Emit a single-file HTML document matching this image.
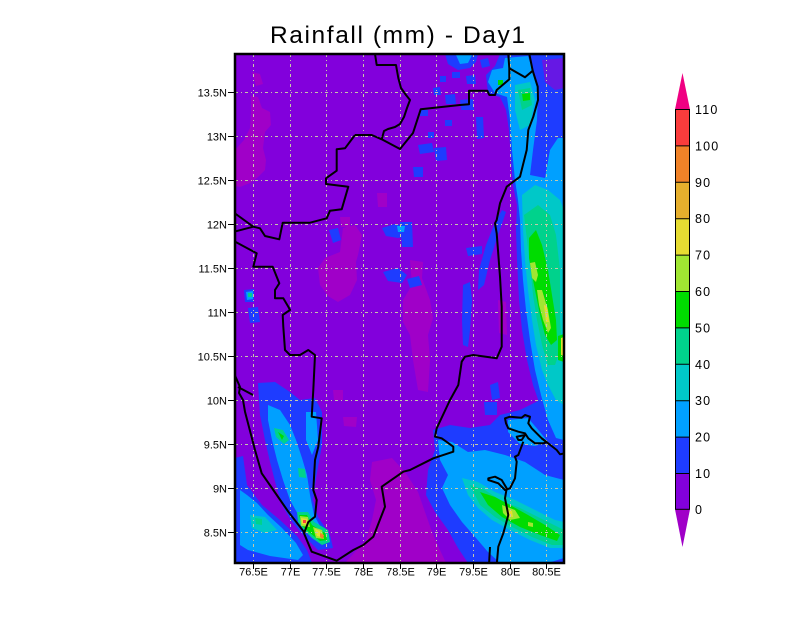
<!DOCTYPE html>
<html><head><meta charset="utf-8"><style>html,body{margin:0;padding:0;background:#fff;}svg{display:block}</style></head>
<body>
<svg width="800" height="618" viewBox="0 0 800 618" xmlns="http://www.w3.org/2000/svg" font-family="'Liberation Sans', sans-serif">
<rect width="800" height="618" fill="#fff"/>
<defs><clipPath id="c"><rect x="235" y="54" width="329" height="509"/></clipPath></defs>
<g clip-path="url(#c)">
<rect x="235" y="54" width="329" height="509" fill="rgb(130,0,220)"/>
<!-- magenta patches -->
<g fill="rgb(160,0,200)">
<path d="M251,96 L258,97 L262,108 L270,112 L271,125 L265,132 L263,148 L266,160 L265,170 L258,177 L250,183 L240,187 L235,186 L235,150 L244,140 L250,128 L251,112 Z"/>
<path d="M252,72 L260,74 L263,84 L256,86 Z"/>
<path d="M343,228 L355,225 L362,235 L358,255 L356,262 L357,280 L350,295 L338,302 L328,296 L320,285 L318,268 L325,258 L340,252 Z"/>
<path d="M410,260 L423,262 L422,278 L430,300 L433,318 L428,335 L430,360 L428,392 L418,390 L413,360 L410,335 L403,322 L403,300 L412,285 Z"/>
<path d="M498,300 L506,302 L507,335 L499,333 Z"/>
<path d="M372,462 L392,458 L405,472 L418,492 L425,512 L432,532 L440,550 L446,563 L345,563 L355,552 L366,540 L372,520 L376,500 L370,480 Z"/>
<path d="M377,480 L387,480 L387,488 L378,488 Z"/>
<path d="M333,390 L343,390 L343,400 L334,400 Z"/>
<path d="M343,417 L357,417 L356,427 L344,426 Z"/>
<path d="M340,217 L350,217 L350,227 L341,227 Z"/>
<path d="M377,193 L387,193 L387,207 L378,207 Z"/>
</g>
<!-- blue (10-20) -->
<g fill="rgb(30,60,255)">
<path d="M500,54 L564,54 L564,425 L550,422 L540,405 L533,385 L527,360 L522,330 L519,300 L517,260 L516,230 L517,205 L513,185 L511,160 L509,130 L506,110 L500,97 L488,93 L486,75 L495,66 Z"/>
<path d="M445,54 L478,54 L476,62 L470,68 L458,70 L448,64 Z"/>
<path d="M433,430 L450,425 L470,428 L490,425 L500,415 L520,410 L540,400 L564,395 L564,563 L468,563 L458,548 L448,530 L435,512 L426,495 L428,470 L435,450 Z"/>
<path d="M235,458 L243,456 L247,485 L262,505 L280,520 L297,536 L307,550 L312,563 L235,563 Z"/>
<path d="M258,383 L275,382 L290,392 L300,400 L315,398 L322,412 L322,445 L316,478 L313,500 L318,517 L330,535 L333,548 L318,550 L305,537 L292,522 L282,505 L276,485 L270,462 L265,440 L260,415 Z"/>
<path d="M329,230 L338,228 L341,240 L333,243 Z"/>
<path d="M382,228 L395,224 L410,226 L410,236 L398,238 L386,236 Z"/>
<path d="M383,272 L398,268 L407,275 L402,283 L388,281 Z"/>
<path d="M463,285 L470,282 L472,300 L470,330 L468,347 L463,345 L462,320 Z"/>
<path d="M502,210 L506,212 L498,235 L490,260 L484,285 L478,290 L479,270 L486,245 L494,225 Z"/>
<path d="M466,248 L482,246 L482,254 L468,256 Z"/>
<path d="M407,279 L419,276 L422,285 L410,288 Z"/>
<path d="M490,385 L498,382 L500,398 L492,400 Z"/>
<path d="M418,145 L432,143 L434,152 L420,154 Z"/>
<path d="M434,148 L446,147 L447,160 L436,161 Z"/>
<path d="M413,167 L423,167 L423,177 L414,177 Z"/>
<path d="M433,88 L440,87 L441,95 L434,95 Z"/>
<path d="M445,95 L455,94 L456,104 L446,104 Z"/>
<path d="M460,100 L473,99 L474,110 L461,110 Z"/>
<path d="M476,117 L483,117 L484,138 L477,139 Z"/>
<path d="M248,308 L258,307 L260,322 L250,323 Z"/>
<path d="M244,290 L254,289 L254,302 L245,302 Z"/>
<path d="M484,402 L497,402 L497,415 L485,415 Z"/>
<path d="M400,222 L412,222 L413,247 L402,247 Z"/>
<path d="M452,72 L460,72 L460,78 L452,78 Z"/>
<path d="M466,76 L475,75 L476,84 L467,84 Z"/>
<path d="M480,60 L488,58 L490,66 L482,68 Z"/>
<path d="M440,76 L446,76 L446,82 L440,82 Z"/>
<path d="M420,110 L428,110 L428,116 L420,116 Z"/>
<path d="M445,120 L452,120 L452,126 L445,126 Z"/>
<path d="M428,132 L434,132 L434,138 L428,138 Z"/>
</g>
<g fill="rgb(150,0,210)" opacity="0.6">
<path d="M542,60 L564,58 L564,88 L555,90 L545,82 Z"/>
</g>
<!-- light blue (20-30) -->
<g fill="rgb(0,160,255)">
<path d="M505,58 L528,56 L533,72 L538,90 L537,120 L533,150 L530,175 L545,178 L550,150 L558,138 L564,138 L564,440 L556,438 L548,420 L541,395 L535,370 L530,340 L526,310 L523,280 L521,250 L520,220 L518,200 L515,180 L512,150 L510,120 L507,97 L495,93 L488,82 L492,70 L503,68 Z"/>
<path d="M456,55 L472,55 L468,63 L460,64 Z"/>
<path d="M438,440 L452,442 L468,452 L485,450 L505,455 L525,462 L545,475 L564,480 L564,558 L548,563 L500,563 L488,552 L476,538 L462,522 L450,505 L442,488 L448,475 L440,460 Z"/>
<path d="M508,420 L528,418 L540,432 L548,442 L535,446 L520,444 L508,432 Z"/>
<path d="M240,490 L247,495 L257,503 L268,515 L282,528 L296,543 L303,555 L298,560 L270,556 L248,550 L240,545 Z"/>
<path d="M268,405 L280,410 L290,425 L296,440 L302,458 L307,475 L310,495 L314,515 L325,535 L322,542 L310,530 L300,518 L290,500 L283,480 L277,460 L272,440 L268,420 Z"/>
<path d="M306,412 L316,412 L318,440 L312,455 L306,440 Z"/>
<path d="M397,226 L405,226 L404,232 L398,232 Z"/>
<path d="M246,292 L253,291 L253,299 L247,300 Z"/>
</g>
<!-- cyan (30-40) -->
<g fill="rgb(0,200,200)">
<path d="M522,195 L535,185 L548,190 L560,200 L564,210 L564,405 L556,400 L548,385 L542,370 L536,345 L532,320 L528,290 L525,260 L523,230 Z"/>
<path d="M515,85 L530,82 L535,100 L530,125 L520,130 L515,110 Z"/>
<path d="M462,478 L478,482 L495,492 L515,500 L535,510 L555,520 L564,522 L564,548 L550,548 L530,540 L510,530 L492,520 L478,508 L468,495 Z"/>
<path d="M250,515 L265,517 L277,530 L265,533 L252,528 Z"/>
</g>
<!-- teal (40-50) -->
<g fill="rgb(0,210,140)">
<path d="M524,215 L538,205 L550,215 L556,235 L560,270 L560,320 L562,345 L555,365 L548,365 L542,345 L537,320 L533,295 L530,265 L527,240 Z"/>
<path d="M518,90 L530,88 L532,105 L522,110 Z"/>
<path d="M470,485 L485,490 L500,500 L520,508 L540,518 L560,528 L564,530 L564,545 L552,545 L532,537 L512,527 L495,517 L480,505 Z"/>
<path d="M274,428 L283,430 L289,440 L284,444 L276,437 Z"/>
<path d="M298,468 L305,469 L306,478 L299,477 Z"/>
<path d="M297,512 L308,512 L314,522 L328,530 L330,542 L322,545 L312,538 L304,530 L298,522 Z"/>
<path d="M255,518 L262,519 L262,525 L256,524 Z"/>
<path d="M248,293 L252,293 L252,297 L248,297 Z"/>
</g>
<!-- green (50-60) -->
<g fill="rgb(0,220,0)">
<path d="M529,238 L536,230 L542,245 L548,270 L552,295 L556,320 L557,340 L551,345 L545,335 L540,315 L536,295 L532,275 L529,258 Z"/>
<path d="M522,94 L530,93 L530,100 L523,101 Z"/>
<path d="M498,80 L503,80 L503,85 L498,85 Z"/>
<path d="M480,492 L495,497 L510,505 L528,515 L545,525 L560,535 L557,541 L540,535 L520,527 L502,517 L488,505 Z"/>
<path d="M278,432 L284,436 L282,440 Z"/>
<path d="M299,515 L307,515 L312,525 L325,533 L327,540 L320,541 L310,533 L302,526 Z"/>
<path d="M558,336 L564,334 L564,362 L558,360 Z"/>
</g>
<!-- yellow-green (60-70) -->
<g fill="rgb(160,230,50)">
<path d="M530,263 L535,262 L538,275 L536,282 L532,278 Z"/>
<path d="M537,290 L542,290 L548,310 L551,328 L548,333 L543,320 L539,305 Z"/>
<path d="M502,505 L515,510 L520,518 L510,520 L503,513 Z"/>
<path d="M528,522 L533,523 L533,527 L528,526 Z"/>
<path d="M300,516 L308,517 L310,527 L301,526 Z"/>
<path d="M313,527 L322,530 L324,539 L316,538 Z"/>
</g>
<g fill="rgb(230,220,50)">
<path d="M544,305 L547,306 L549,322 L546,322 Z"/>
<path d="M561,338 L564,337 L564,356 L561,355 Z"/>
<path d="M507,510 L512,511 L513,517 L508,516 Z"/>
<path d="M301,518 L307,519 L308,525 L302,524 Z"/>
<path d="M315,529 L320,531 L322,537 L317,536 Z"/>
</g>
<path d="M320,533 L324,535 L323,539 L320,537 Z" fill="rgb(240,130,40)"/>
<path d="M303,520 L306,520 L306,523 L303,523 Z" fill="rgb(250,60,60)"/>
<!-- grid -->
<g stroke="#c4c8a8" stroke-width="1" stroke-dasharray="3,3,1,3" fill="none">
<path d="M253.5,54V563M290.5,54V563M326.5,54V563M363.5,54V563M400.5,54V563M436.5,54V563M473.5,54V563M510.5,54V563M546.5,54V563"/>
<path d="M235,92.5H564M235,136.5H564M235,180.5H564M235,224.5H564M235,268.5H564M235,312.5H564M235,356.5H564M235,400.5H564M235,444.5H564M235,488.5H564M235,532.5H564"/>
</g>
<!-- borders -->
<g stroke="#000" stroke-width="2" fill="none" stroke-linejoin="round">
<polyline points="375,54 376.7,65 396,65 398.3,78 401,88 406,95 410,100 407,108 404,117 400,124 395,127 388,129 384,131 381.7,139.3"/>
<polyline points="355,135 371.7,135 381.7,139.3 400,149 413,133 420.7,109.3 460,105 469,104.3 469,90.7 487.3,90.7 489.3,95 495,95 496.7,90 509.3,79.3 509.3,68.3 508.3,54"/>
<polyline points="509.3,68.3 525,77.3 532.7,70.7"/>
<polyline points="355,135 345,148.3 336.7,149.3 336.7,170.7 326,178.3 326,184 348.3,186.7 341.7,209.3 330,210.7 326.7,218.3 310,222.7 282.7,222.7 279.3,239.3 265,236 260,228.3 253.3,226.7 233,232"/>
<polyline points="233,212 253.3,226.7"/>
<polyline points="233,240.5 256.7,253.3 253.3,266.7 272.7,266.7 279.3,283.3 275,290 275,298.3 283.3,298.3 288.3,306.7 290,310 282.7,315 283.3,326.7 285,350 290,355 300,355 308.3,350 315,355 313.3,390 311.7,416.7 321.7,418.3 318.3,446.7 315,460 313.3,490 316.7,500 315,516.7 308.3,522 304,533.3 311.7,551.7 336.7,560.7 353.3,550 363.3,545 373.3,536.7 385,506.7 381.7,486.7 403.3,471.7 410,470 433.3,458.3 453.3,451.7 453.3,446.7 441.7,438.3 435,436.7 436.7,428.3 450,400 458.3,385 461.7,361.7 465,356.7 473.3,355 496.7,358.3 501.7,346.7 501.7,306.7 500,276.7 496.7,233.3 495,223.3 496.7,220 500,203.3 506.7,186.7 520,176.7 526.7,150 528.3,130 533.3,116.7 538,100 537.7,86.7 532.7,70.7 529.3,54"/>
<polyline points="233,371 240,387 239,393 243,400 245,411.7 255,450 261.7,473.3 273.3,490 288.3,511.7 305,533.3"/>
<polyline points="238,387 253,395"/>
<polygon points="505,418.3 510,416.7 521.7,417.7 525,415 530,416.7 528.3,423.3 531.7,428.3 536.7,433.3 541.7,438.3 546.7,442.3 543.3,443.3 535,443.3 528.3,438.3 525,433.3 518.3,431.7 508.3,428.3 506,423.3"/>
<polygon points="516.7,436.7 525,435 521.7,440 518.3,440"/>
<polyline points="523.3,441.7 518.3,455 515,456.7 516.7,461.7 515,478.3 510,488.3 505,490 498.3,483.3 488.3,480 488.3,478.3 495,476.7 501.7,480 506.7,488.3 505,498.3 508.3,515 503.3,533.3 498.3,546.7 496.7,565"/>
<polyline points="490,547 489,565"/>
<polyline points="541.7,438.3 556.7,450 560,454.3 566,453"/>
</g>
</g>
<!-- frame -->
<rect x="235" y="54" width="329" height="509" fill="none" stroke="#000" stroke-width="2.5"/>
<!-- ticks -->
<g stroke="#000" stroke-width="1">
<path d="M228,92.5H234M228,136.5H234M228,180.5H234M228,224.5H234M228,268.5H234M228,312.5H234M228,356.5H234M228,400.5H234M228,444.5H234M228,488.5H234M228,532.5H234"/>
<path d="M253.5,564V569M290.5,564V569M326.5,564V569M363.5,564V569M400.5,564V569M436.5,564V569M473.5,564V569M510.5,564V569M546.5,564V569"/>
</g>
<g font-size="11" fill="#000" text-anchor="end">
<text x="227" y="96.5">13.5N</text>
<text x="227" y="140.5">13N</text>
<text x="227" y="184.5">12.5N</text>
<text x="227" y="228.5">12N</text>
<text x="227" y="272.5">11.5N</text>
<text x="227" y="316.5">11N</text>
<text x="227" y="360.5">10.5N</text>
<text x="227" y="404.5">10N</text>
<text x="227" y="448.5">9.5N</text>
<text x="227" y="492.5">9N</text>
<text x="227" y="536.5">8.5N</text>
</g>
<g font-size="11" fill="#000" text-anchor="middle">
<text x="253.5" y="575.5">76.5E</text>
<text x="290.5" y="575.5">77E</text>
<text x="326.5" y="575.5">77.5E</text>
<text x="363.5" y="575.5">78E</text>
<text x="400.5" y="575.5">78.5E</text>
<text x="436.5" y="575.5">79E</text>
<text x="473.5" y="575.5">79.5E</text>
<text x="510.5" y="575.5">80E</text>
<text x="546.5" y="575.5">80.5E</text>
</g>
<text x="270" y="43" font-size="24.5" textLength="255" lengthAdjust="spacing" fill="#000">Rainfall (mm) - Day1</text>
<!-- colorbar -->
<path d="M675,109.5 L682.5,73 L690,109.5 Z" fill="rgb(240,0,130)"/>
<path d="M675,509.3 L682.5,547 L690,509.3 Z" fill="rgb(160,0,200)"/>
<rect x="675" y="109.5" width="15" height="36.4" fill="rgb(250,60,60)"/>
<rect x="675" y="145.9" width="15" height="36.4" fill="rgb(240,130,40)"/>
<rect x="675" y="182.3" width="15" height="36.4" fill="rgb(230,175,45)"/>
<rect x="675" y="218.7" width="15" height="36.4" fill="rgb(230,220,50)"/>
<rect x="675" y="255.1" width="15" height="36.4" fill="rgb(160,230,50)"/>
<rect x="675" y="291.5" width="15" height="36.4" fill="rgb(0,220,0)"/>
<rect x="675" y="327.9" width="15" height="36.4" fill="rgb(0,210,140)"/>
<rect x="675" y="364.3" width="15" height="36.4" fill="rgb(0,200,200)"/>
<rect x="675" y="400.7" width="15" height="36.4" fill="rgb(0,160,255)"/>
<rect x="675" y="437.1" width="15" height="36.4" fill="rgb(30,60,255)"/>
<rect x="675" y="473.5" width="15" height="35.8" fill="rgb(130,0,220)"/>
<g stroke="#000" stroke-width="1" fill="none">
<rect x="675.5" y="109.5" width="14" height="399.8"/>
<path d="M675,145.9H690M675,182.3H690M675,218.7H690M675,255.1H690M675,291.5H690M675,327.9H690M675,364.3H690M675,400.7H690M675,437.1H690M675,473.5H690"/>
</g>
<g font-size="12.5" fill="#000" letter-spacing="1.2">
<text x="695" y="114">110</text>
<text x="695" y="150.4">100</text>
<text x="695" y="186.8">90</text>
<text x="695" y="223.2">80</text>
<text x="695" y="259.6">70</text>
<text x="695" y="296">60</text>
<text x="695" y="332.4">50</text>
<text x="695" y="368.8">40</text>
<text x="695" y="405.2">30</text>
<text x="695" y="441.6">20</text>
<text x="695" y="478">10</text>
<text x="695" y="513.8">0</text>
</g>
</svg>
</body></html>
